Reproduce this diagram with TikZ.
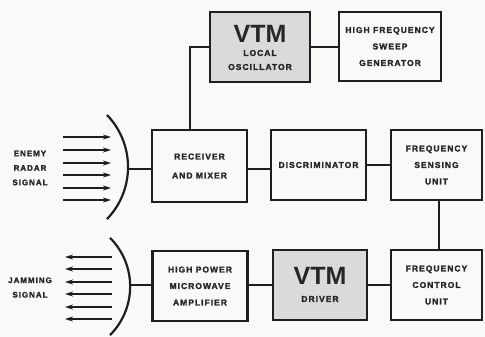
\documentclass[tikz,border=0pt]{standalone}
\usepackage{fontspec}
\setmainfont{Liberation Sans}
\newfontfamily\lblfont[LetterSpace=12, FakeBold=2]{Liberation Sans Bold}
\newfontfamily\vtmfont{Liberation Sans Bold}
\usetikzlibrary{arrows.meta}
\definecolor{ink}{HTML}{1E1E1E}
\definecolor{txt}{HTML}{262626}
\definecolor{vtmgray}{HTML}{DADADA}
\definecolor{paper}{HTML}{F9F9F8}
\tikzset{
  box/.style={draw=ink, line width=2.3pt, inner sep=0pt, minimum width=95pt, minimum height=70pt, align=center, text=txt,
    font=\lblfont\fontsize{8.5}{16.5}\selectfont},
  vtmbox/.style={box, fill=vtmgray},
  vtmtxt/.style={inner sep=0pt, text=txt, font=\vtmfont\fontsize{25}{25}\selectfont},
  sub/.style={inner sep=0pt, align=center, text=txt, font=\lblfont\fontsize{8.5}{14}\selectfont},
  sidelbl/.style={inner sep=0pt, align=center, text=txt, font=\lblfont\fontsize{8}{14.5}\selectfont},
  wire/.style={draw=ink, line width=2pt},
  dish/.style={draw=ink, line width=2.2pt},
  sig/.style={draw=ink, line width=1.6pt, -{Stealth[length=8pt,width=5pt]}}
}
\begin{document}
\begin{tikzpicture}[x=1pt,y=-1pt]
\fill[paper] (0,0) rectangle (485,337);
\useasboundingbox (0,0) rectangle (485,337);

% top row
\node[vtmbox, minimum width=100pt] (lo) at (260,47) {};
\node[vtmtxt] (lovtm) at (260,34) {VTM};
\node[sub] (lotxt) at (260,60) {LOCAL\\OSCILLATOR};
\node[box, minimum width=102pt, minimum height=69pt] (sweep) at (390,46.5) {HIGH FREQUENCY\\SWEEP\\GENERATOR};

% middle row
\node[box, minimum height=72pt] (rec) at (199.5,166) {RECEIVER\\[2.5pt]AND MIXER};
\node[box] (disc) at (318.5,165) {DISCRIMINATOR};
\node[box, minimum width=91pt] (fsu) at (436.5,165) {FREQUENCY\\SENSING\\UNIT};

% bottom row
\node[box] (hpa) at (200,286) {HIGH POWER\\MICROWAVE\\AMPLIFIER};
\node[vtmbox, minimum width=94pt] (drv) at (320,285) {};
\node[vtmtxt] (drvvtm) at (320,276) {VTM};
\node[sub] (drvtxt) at (320,299) {DRIVER};
\node[box, minimum width=91pt] (fcu) at (436.5,285) {FREQUENCY\\CONTROL\\UNIT};

% side labels
\node[sidelbl] (enemy) at (30,168) {ENEMY\\RADAR\\SIGNAL};
\node[sidelbl] (jam) at (30,287.5) {JAMMING\\SIGNAL};

% dishes (circular arcs)
\draw[dish] (107,115) arc[start angle=-44, end angle=44, radius=74.9];
\draw[dish] (110,237.8) arc[start angle=-45, end angle=45, radius=68.8];
\coordinate (dA) at (128,169);
\coordinate (dB) at (130,285);
\coordinate (c1) at (190,47);

% connectors
\draw[wire] (lo.west |- c1) -- (c1) -- (c1 |- rec.north);
\draw[wire] (lo.east) -- (lo.east -| sweep.west);
\draw[wire] (dA) -- (dA -| rec.west);
\draw[wire] (rec.east |- dA) -- (dA -| disc.west);
\draw[wire] (disc.east) -- (disc.east -| fsu.west);
\coordinate (c2) at (439,200);
\draw[wire] (c2 |- fsu.south) -- (c2 |- fcu.north);
\draw[wire] (dB) -- (dB -| hpa.west);
\draw[wire] (hpa.east |- dB) -- (dB -| drv.west);
\draw[wire] (drv.east |- dB) -- (dB -| fcu.west);

% incoming radar signal arrows
\foreach \yy in {137,150,163,175,188,200}
  \draw[sig] (63,\yy) -- (111,\yy);
% outgoing jamming arrows
\foreach \yy in {257,269,282,294,307,319}
  \draw[sig] (112,\yy) -- (65,\yy);
\end{tikzpicture}
\end{document}
